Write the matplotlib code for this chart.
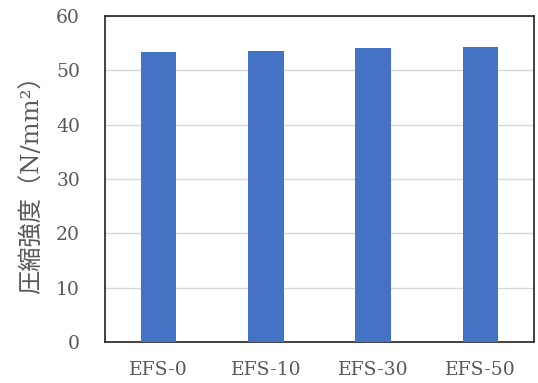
import matplotlib
matplotlib.use("Agg")
import matplotlib.pyplot as plt

categories = ["EFS-0", "EFS-10", "EFS-30", "EFS-50"]
strength = [53.4, 53.6, 54.1, 54.3]
yticks = [0, 10, 20, 30, 40, 50, 60]

fig = plt.figure(figsize=(5.38, 3.83), dpi=100)
ax = fig.add_axes([105/538, 1-342/383, (534-105)/538, (342-16)/383])

x = range(len(categories))
ax.bar(x, strength, width=0.33, color="#4472C4", zorder=3)
ax.set_xlim(-0.5, len(categories) - 0.5)
ax.set_ylim(0, 60)
ax.set_yticks(yticks)
ax.set_xticks(list(x))
ax.set_xticklabels(categories)
ax.yaxis.grid(True, color="#D9D9D9", linewidth=1.0, zorder=0)
ax.set_axisbelow(True)
for s in ax.spines.values():
    s.set_color("#222222")
    s.set_linewidth(1.2)
ax.tick_params(axis="both", length=0, labelcolor="#595959", labelsize=13.5)
ax.tick_params(axis="y", pad=18)
ax.tick_params(axis="x", pad=14)
for lab in ax.get_xticklabels() + ax.get_yticklabels():
    lab.set_family("DejaVu Serif")

ax.set_ylabel("圧縮強度（N/mm²）", family=["DejaVu Serif", "Noto Sans CJK JP"],
              fontsize=17.5, color="#595959", labelpad=9)

fig.savefig("out.png", dpi=100)
